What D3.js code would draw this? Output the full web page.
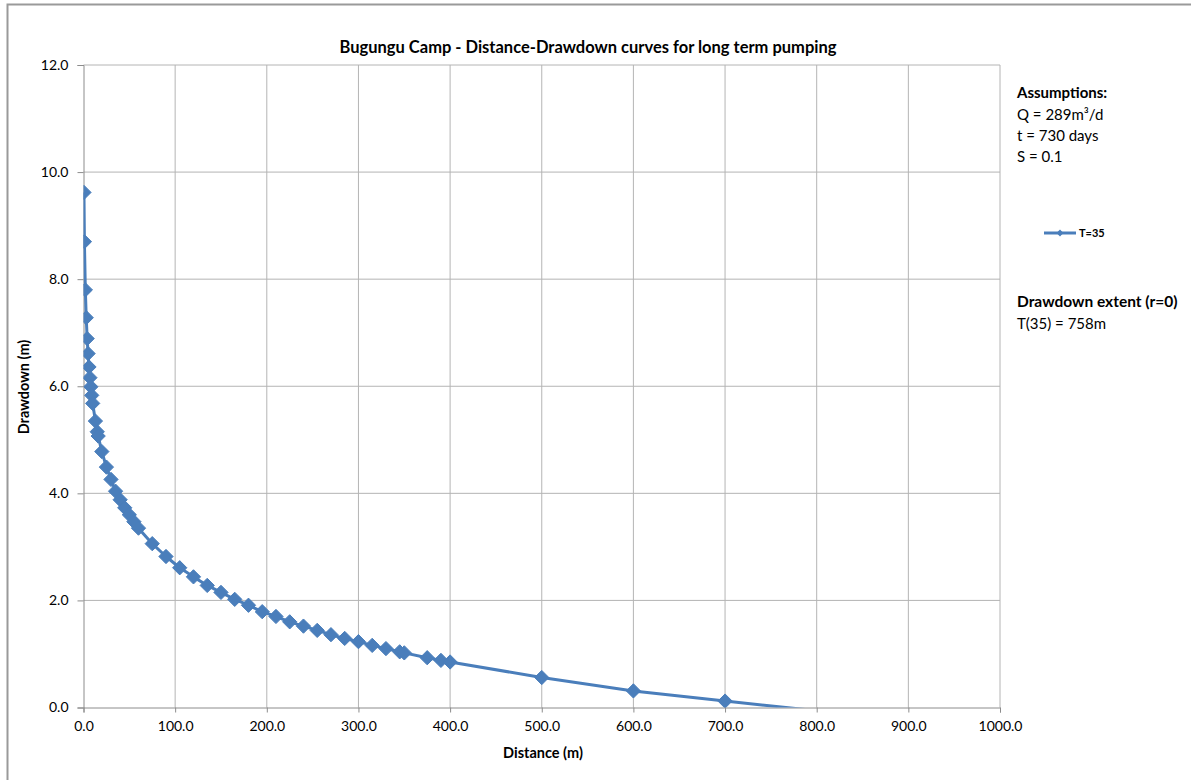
<!DOCTYPE html>
<html>
<head>
<meta charset="utf-8">
<script src="https://cdn.jsdelivr.net/npm/d3@7"></script>
<style>
  body { margin: 0; background: #fff; }
  svg text { font-family: Lato, "Open Sans", sans-serif; fill: #000; }
</style>
</head>
<body>
<div id="wrapper"></div>
<script>
// distance (m) and drawdown (m), series T=35
const distances = [0.5, 1, 2, 3, 4, 5, 6, 7, 8, 9, 10, 13, 15, 16, 20, 25, 30, 35, 40, 45,
  50, 55, 60, 75, 90, 105, 120, 135, 150, 165, 180, 195, 210, 225, 240, 255, 270, 285,
  300, 315, 330, 345, 350, 375, 390, 400, 500, 600, 700, 800]
const drawdowns = [9.62, 8.70, 7.80, 7.28, 6.89, 6.61, 6.36, 6.16, 5.99, 5.83, 5.68, 5.35,
  5.15, 5.07, 4.78, 4.49, 4.26, 4.04, 3.88, 3.73, 3.60, 3.47, 3.35, 3.06, 2.82, 2.61,
  2.44, 2.28, 2.15, 2.02, 1.91, 1.79, 1.70, 1.60, 1.52, 1.44, 1.36, 1.29, 1.23, 1.16,
  1.10, 1.04, 1.02, 0.93, 0.88, 0.85, 0.56, 0.31, 0.12, -0.06]
const seriesName = "T=35"
const xTicks = [0, 100, 200, 300, 400, 500, 600, 700, 800, 900, 1000]
const yTicks = [0, 2, 4, 6, 8, 10, 12]
const assumptions = ["Q = 289m³/d", "t = 730 days", "S = 0.1"]
const extentLines = ["T(35) = 758m"]

const dataset = distances.map((d, i) => ({ distance: d, drawdown: drawdowns[i] }))

let dimensions = {
  width: 1191,
  height: 780,
  margin: { top: 65, right: 191, bottom: 72.5, left: 83.5 },
}
dimensions.boundedWidth = dimensions.width - dimensions.margin.left - dimensions.margin.right
dimensions.boundedHeight = dimensions.height - dimensions.margin.top - dimensions.margin.bottom

const wrapper = d3.select("#wrapper")
  .append("svg")
  .attr("width", dimensions.width)
  .attr("height", dimensions.height)

// chart border (left and top edges visible)
wrapper.append("path")
  .attr("d", "M7.5,780 V4.5 H1191")
  .attr("fill", "none")
  .attr("stroke", "#9a9a9a")
  .attr("stroke-width", 2)

const bounds = wrapper.append("g")
  .attr("transform", `translate(${dimensions.margin.left},${dimensions.margin.top})`)

const xScale = d3.scaleLinear()
  .domain([0, 1000])
  .range([0, dimensions.boundedWidth])

const yScale = d3.scaleLinear()
  .domain([0, 12])
  .range([dimensions.boundedHeight, 0])

// gridlines
bounds.append("g")
  .selectAll("line")
  .data(xTicks.slice(1))
  .join("line")
  .attr("x1", d => xScale(d)).attr("x2", d => xScale(d))
  .attr("y1", 0).attr("y2", dimensions.boundedHeight)
  .attr("stroke", "#b4b4b4")

bounds.append("g")
  .selectAll("line")
  .data(yTicks.slice(1))
  .join("line")
  .attr("x1", 0).attr("x2", dimensions.boundedWidth)
  .attr("y1", d => yScale(d)).attr("y2", d => yScale(d))
  .attr("stroke", "#b4b4b4")

// axes
const xAxisGen = d3.axisBottom(xScale).tickValues(xTicks).tickFormat(d3.format(".1f")).tickSize(5).tickPadding(9)
const yAxisGen = d3.axisLeft(yScale).tickValues(yTicks).tickFormat(d3.format(".1f")).tickSize(6).tickPadding(9)

const xAxis = bounds.append("g")
  .attr("transform", `translate(0,${dimensions.boundedHeight})`)
  .call(xAxisGen)
const yAxis = bounds.append("g").call(yAxisGen)

;[xAxis, yAxis].forEach(ax => {
  ax.select(".domain").attr("stroke", "#8c8c8c")
  ax.selectAll(".tick line").attr("stroke", "#8c8c8c")
  ax.selectAll(".tick text").style("font-size", "14px").attr("fill", "#000")
})

// series line + diamond markers, clipped to plot area
wrapper.append("defs").append("clipPath").attr("id", "plot-clip")
  .append("rect")
  .attr("x", 0).attr("y", -10)
  .attr("width", dimensions.boundedWidth).attr("height", dimensions.boundedHeight + 10)

const series = bounds.append("g").attr("clip-path", "url(#plot-clip)")

const lineGen = d3.line()
  .x(d => xScale(d.distance))
  .y(d => yScale(d.drawdown))

series.append("path")
  .datum(dataset)
  .attr("d", lineGen)
  .attr("fill", "none")
  .attr("stroke", "#4a7ebb")
  .attr("stroke-width", 3)
  .attr("stroke-linejoin", "round")

const diamond = d3.symbol().type(d3.symbolDiamond2).size(130)

series.selectAll(".dot")
  .data(dataset.filter(d => d.drawdown >= 0))
  .join("path")
  .attr("class", "dot")
  .attr("transform", d => `translate(${xScale(d.distance)},${yScale(d.drawdown)})`)
  .attr("d", diamond)
  .attr("fill", "#4a7ebb")
  .attr("stroke", "#4a7ebb")
  .attr("stroke-width", 1)

// title and axis titles
wrapper.append("text")
  .attr("x", 588).attr("y", 53)
  .attr("text-anchor", "middle")
  .style("font-size", "16.5px").style("font-weight", "bold")
  .text("Bugungu Camp - Distance-Drawdown curves for long term pumping")

wrapper.append("text")
  .attr("x", 543).attr("y", 758)
  .attr("text-anchor", "middle")
  .style("font-size", "14.5px").style("font-weight", "bold")
  .text("Distance (m)")

wrapper.append("text")
  .attr("transform", "translate(29,387) rotate(-90)")
  .attr("text-anchor", "middle")
  .style("font-size", "14.5px").style("font-weight", "bold")
  .text("Drawdown (m)")

// right-hand notes
const notes = wrapper.append("g").attr("transform", "translate(1017,0)")
notes.append("text").attr("y", 98)
  .style("font-size", "15px").style("font-weight", "bold")
  .text("Assumptions:")
notes.selectAll(".assume")
  .data(assumptions)
  .join("text")
  .attr("class", "assume")
  .attr("y", (d, i) => 120 + i * 21)
  .style("font-size", "15px")
  .text(d => d)

notes.append("text").attr("y", 307)
  .style("font-size", "15.5px").style("font-weight", "bold")
  .text("Drawdown extent (r=0)")
notes.selectAll(".extent")
  .data(extentLines)
  .join("text")
  .attr("class", "extent")
  .attr("y", (d, i) => 329 + i * 21)
  .style("font-size", "15px")
  .text(d => d)

// legend
const legend = wrapper.append("g").attr("transform", "translate(1044,233)")
legend.append("line")
  .attr("x1", 0).attr("x2", 32)
  .attr("stroke", "#4a7ebb").attr("stroke-width", 3)
legend.append("path")
  .attr("transform", "translate(16,0)")
  .attr("d", d3.symbol().type(d3.symbolDiamond2).size(30))
  .attr("fill", "#4a7ebb")
legend.append("text")
  .attr("x", 35).attr("y", 4)
  .style("font-size", "11px").style("font-weight", "bold")
  .text(seriesName)
</script>
</body>
</html>
